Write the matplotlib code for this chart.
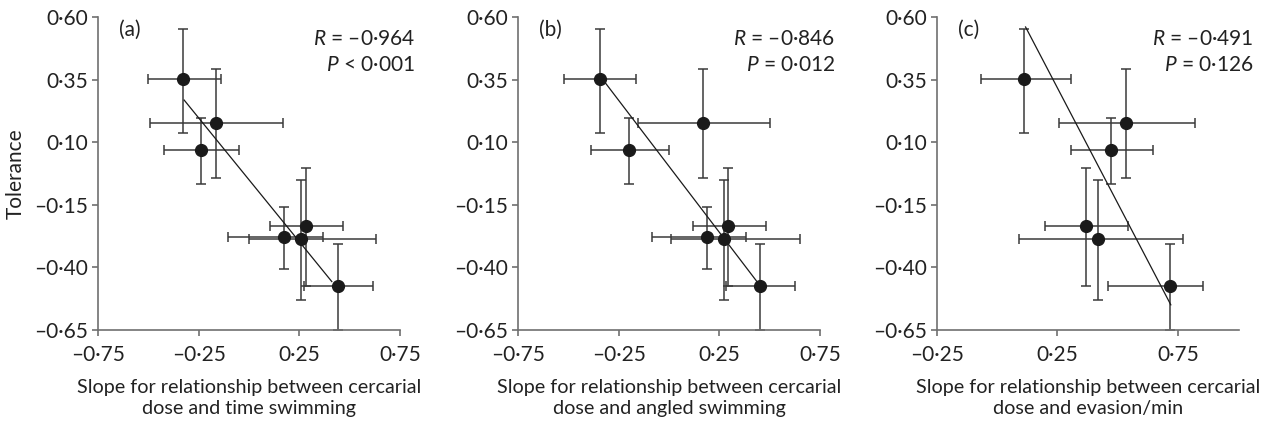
import numpy as np
import matplotlib
matplotlib.use("Agg")
import matplotlib.pyplot as plt
from matplotlib.ticker import FuncFormatter

plt.rcParams['font.family'] = ['Lato', 'DejaVu Sans']
plt.rcParams['mathtext.fontset'] = 'custom'
plt.rcParams['mathtext.it'] = 'Lato:italic'
plt.rcParams['mathtext.rm'] = 'Lato'

# tolerance (same for all panels)
tol = [0.351, 0.177, 0.068, -0.280, -0.286, -0.234, -0.474]
tol_lo = [0.137, -0.045, -0.068, -0.407, -0.530, -0.474, -0.650]
tol_hi = [0.551, 0.394, 0.197, -0.158, -0.052, -0.005, -0.308]

# (a) time swimming
xa = [-0.330, -0.166, -0.238, 0.174, 0.257, 0.283, 0.442]
xa_lo = [-0.501, -0.493, -0.420, -0.102, -0.002, 0.104, 0.273]
xa_hi = [-0.141, 0.167, -0.050, 0.366, 0.631, 0.469, 0.618]
fit_a_x = [-0.322, 0.411]
fit_a_y = [0.268, -0.457]

# (b) angled swimming
xb = [-0.342, 0.170, -0.199, 0.190, 0.273, 0.293, 0.451]
xb_lo = [-0.522, -0.156, -0.386, -0.086, 0.010, 0.120, 0.281]
xb_hi = [-0.163, 0.503, -0.001, 0.381, 0.648, 0.481, 0.623]
fit_b_x = [-0.326, 0.443]
fit_b_y = [0.347, -0.464]

# (c) evasion/min  (4th point not visible, hidden under the 5th)
xc = [0.113, 0.532, 0.471, np.nan, 0.416, 0.368, 0.716]
xc_lo = [-0.067, 0.255, 0.307, np.nan, 0.091, 0.198, 0.460]
xc_hi = [0.306, 0.820, 0.645, np.nan, 0.768, 0.543, 0.853]
fit_c_x = [0.118, 0.719]
fit_c_y = [0.560, -0.550]

panels = [
    ("(a)", xa, xa_lo, xa_hi, fit_a_x, fit_a_y, (-0.75, 0.75), [-0.75, -0.25, 0.25, 0.75],
     "$R$ = \u20130\u00b7964", "$P$ < 0\u00b7001", "dose and time swimming"),
    ("(b)", xb, xb_lo, xb_hi, fit_b_x, fit_b_y, (-0.75, 0.75), [-0.75, -0.25, 0.25, 0.75],
     "$R$ = \u20130\u00b7846", "$P$ = 0\u00b7012", "dose and angled swimming"),
    ("(c)", xc, xc_lo, xc_hi, fit_c_x, fit_c_y, (-0.25, 1.0), [-0.25, 0.25, 0.75],
     "$R$ = \u20130\u00b7491", "$P$ = 0\u00b7126", "dose and evasion/min"),
]

lefts = [0.0775, 0.4098, 0.741]
width = 0.239
bottom, top = 0.222, 0.960
fs = 15

fmt = FuncFormatter(lambda v, p: f"{v:.2f}".replace('.', '\u00b7').replace('-', '\u2013'))

fig = plt.figure(figsize=(12.64, 4.24), dpi=100)
for i, (lab, x, xlo, xhi, fx, fy, xlim, xt, rtxt, ptxt, xl2) in enumerate(panels):
    ax = fig.add_axes([lefts[i], bottom, width, top - bottom])
    x = np.array(x)
    y = np.array(tol)
    keep = ~np.isnan(x)
    x = x[keep]
    y = y[keep]
    xerr = [x - np.array(xlo)[keep], np.array(xhi)[keep] - x]
    yerr = [y - np.array(tol_lo)[keep], np.array(tol_hi)[keep] - y]
    ax.errorbar(x, y, xerr=xerr, yerr=yerr, fmt='none', ecolor='#3a3a3a',
                elinewidth=1.1, capsize=3.5, capthick=1.1, zorder=2, clip_on=False)
    ax.plot(fx, fy, color='#1a1a1a', lw=0.9, zorder=3)
    ax.plot(x, y, 'o', color='#1a1a1a', ms=8.5, zorder=4, clip_on=False)

    ax.set_xlim(*xlim)
    ax.set_ylim(-0.65, 0.60)
    ax.set_xticks(xt)
    ax.set_yticks([-0.65, -0.40, -0.15, 0.10, 0.35, 0.60])
    ax.xaxis.set_major_formatter(fmt)
    ax.yaxis.set_major_formatter(fmt)
    for s in ['top', 'right']:
        ax.spines[s].set_visible(False)
    for s in ['left', 'bottom']:
        ax.spines[s].set_color('#707070')
        ax.spines[s].set_linewidth(1.2)
    ax.tick_params(colors='#707070', width=1.2, length=4, labelsize=fs, labelcolor='#222222')
    ax.tick_params(axis='x', pad=7)
    ax.tick_params(axis='y', pad=3)

    ax.text(0.07, 0.99, lab, transform=ax.transAxes, fontsize=fs, va='top', ha='left', color='#222222')
    ax.text(1.05, 0.93, rtxt, transform=ax.transAxes, fontsize=fs, va='center', ha='right', color='#222222')
    ax.text(1.05, 0.845, ptxt, transform=ax.transAxes, fontsize=fs, va='center', ha='right', color='#222222')
    ax.set_xlabel("Slope for relationship between cercarial\n" + xl2, fontsize=14.2,
                  color='#222222', labelpad=10, linespacing=1.3, multialignment='center')
    if i == 0:
        ax.set_ylabel("Tolerance", fontsize=fs, color='#222222', labelpad=6)

fig.savefig("out.png", dpi=100)
